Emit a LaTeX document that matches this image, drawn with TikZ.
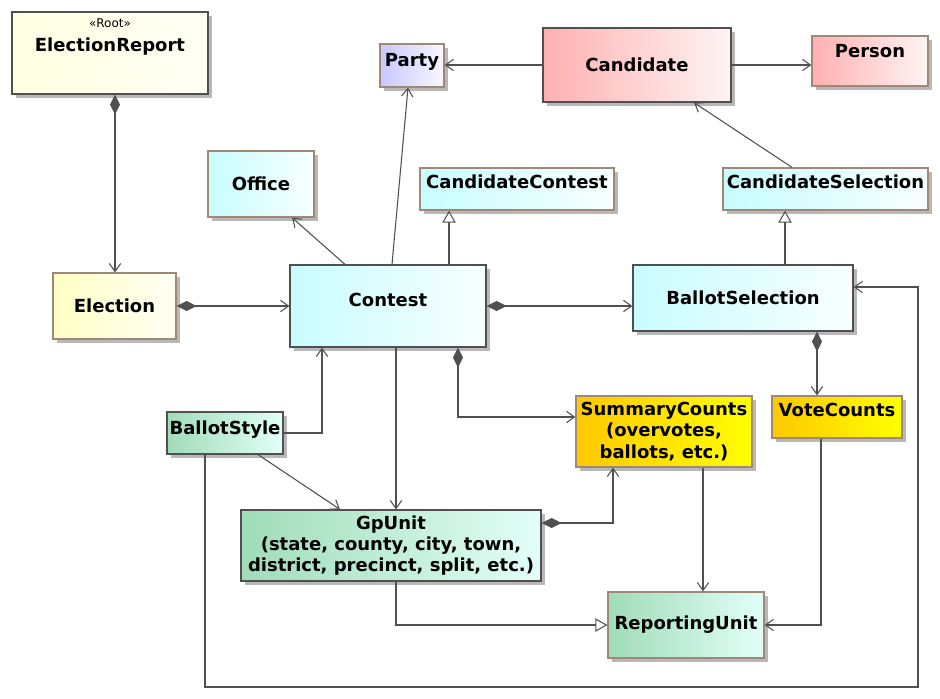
\documentclass[tikz,border=0pt]{standalone}
\usepackage{fontspec}
\setmainfont{DejaVu Sans}
\usetikzlibrary{arrows.meta, shadows}
\definecolor{linegray}{HTML}{505050}
\definecolor{edgebrown}{HTML}{A08878}
\definecolor{rootA}{HTML}{FFFFE0}
\definecolor{rootB}{HTML}{FFFFF6}
\definecolor{electA}{HTML}{FFFFC4}
\definecolor{electB}{HTML}{FFFFF4}
\definecolor{cyanA}{HTML}{C8FCFF}
\definecolor{cyanB}{HTML}{F8FFFF}
\definecolor{lavA}{HTML}{C8C8FF}
\definecolor{lavB}{HTML}{F8F8FF}
\definecolor{pinkA}{HTML}{FFB0B0}
\definecolor{pinkB}{HTML}{FFF4F4}
\definecolor{greenA}{HTML}{A0DCB8}
\definecolor{greenB}{HTML}{E2FFF8}
\definecolor{goldA}{HTML}{FFC800}
\definecolor{goldB}{HTML}{FFFF00}
\newcommand{\boxfont}{\bfseries\fontsize{13.5}{16}\selectfont}
\tikzstyle{box} = [rectangle, line width=0.9pt, inner sep=2pt, align=center,
    font=\boxfont, drop shadow={shadow xshift=3pt, shadow yshift=-3pt,
    fill=black!28, opacity=1}]
\tikzstyle{darkbox} = [box, draw=linegray]
\tikzstyle{brownbox} = [box, draw=edgebrown]
\tikzstyle{rootfill} = [left color=rootA, right color=rootB]
\tikzstyle{electfill} = [left color=electA, right color=electB]
\tikzstyle{cyanfill} = [left color=cyanA, right color=cyanB]
\tikzstyle{lavfill} = [left color=lavA, right color=lavB]
\tikzstyle{pinkfill} = [left color=pinkA, right color=pinkB]
\tikzstyle{greenfill} = [left color=greenA, right color=greenB]
\tikzstyle{goldfill} = [left color=goldA, right color=goldB]
\tikzstyle{toptext} = [anchor=north, inner sep=0pt, font=\boxfont]
\tikzstyle{link} = [draw=linegray, line width=0.8pt]
\tikzstyle{assoc} = [link, -{Straight Barb[length=6pt, width=8.5pt]}]
\tikzstyle{comp} = [link, {Diamond[length=15pt, width=7.5pt]}-{Straight Barb[length=6pt, width=8.5pt]}]
\tikzstyle{gen} = [link, -{Triangle[open, length=9pt, width=10pt]}]
\begin{document}
\begin{tikzpicture}[x=0.75pt, y=-0.75pt]
  \useasboundingbox (0,0) rectangle (940,699);

  % Classes
  \node[darkbox, rootfill, minimum width=147pt, minimum height=61.5pt,
    label={[toptext, font=\fontsize{9}{10}\selectfont, yshift=-5.4pt]north:«Root»},
    label={[toptext, yshift=-19.4pt]north:ElectionReport}] (report) at (110,53) {};
  \node[brownbox, electfill, minimum width=92.25pt, minimum height=49.5pt] (election) at (114.5,306) {Election};
  \node[brownbox, cyanfill, minimum width=79.5pt, minimum height=49.5pt] (office) at (261,184) {Office};
  \node[brownbox, lavfill, minimum width=48pt, minimum height=32.25pt,
    label={[toptext, yshift=-7pt]north:Party}] (party) at (412,65.5) {};
  \node[darkbox, pinkfill, minimum width=141pt, minimum height=55.5pt] (candidate) at (637,65) {Candidate};
  \node[brownbox, pinkfill, minimum width=87pt, minimum height=37.5pt,
    label={[toptext, yshift=-6.5pt]north:Person}] (person) at (870,61) {};
  \node[brownbox, cyanfill, minimum width=145.5pt, minimum height=31.5pt,
    label={[toptext, yshift=-5.6pt]north:CandidateContest}] (candcontest) at (517,189) {};
  \node[brownbox, cyanfill, minimum width=153.75pt, minimum height=31.5pt,
    label={[toptext, yshift=-5.6pt]north:CandidateSelection}] (candsel) at (825.5,189) {};
  \node[darkbox, cyanfill, minimum width=147pt, minimum height=61.5pt,
    label={[toptext, yshift=-21.5pt]north:Contest}] (contest) at (388,306) {};
  \node[darkbox, cyanfill, minimum width=165pt, minimum height=49.5pt] (ballotsel) at (743,298) {BallotSelection};
  \node[darkbox, greenfill, minimum width=87pt, minimum height=31.5pt,
    label={[toptext, yshift=-6.5pt]north:BallotStyle}] (ballotstyle) at (225,433) {};
  \node[brownbox, goldfill, minimum width=132pt, minimum height=53.25pt] (summary) at (664,431.5)
    {SummaryCounts\\(overvotes,\\ballots, etc.)};
  \node[brownbox, goldfill, minimum width=97.5pt, minimum height=31.5pt,
    label={[toptext, yshift=-5.6pt]north:VoteCounts}] (votecounts) at (837,417) {};
  \node[darkbox, greenfill, minimum width=225pt, minimum height=53.25pt] (gpunit) at (391,545.5)
    {GpUnit\\(state, county, city, town,\\district, precinct, split, etc.)};
  \node[brownbox, greenfill, minimum width=117pt, minimum height=49.5pt] (reporting) at (686,625) {ReportingUnit};

  % Connectors
  \draw[comp] (115,0 |- report.south) -- (115,0 |- election.north);
  \draw[comp] (election.east) -- (contest.west);
  \draw[assoc] (345,0 |- contest.north) -- (292,0 |- office.south);
  \draw[assoc] (392,0 |- contest.north) -- (408,0 |- party.south);
  \draw[gen] (449,0 |- contest.north) -- (449,0 |- candcontest.south);
  \draw[comp] (contest.east) -- (contest.east -| ballotsel.west);
  \draw[gen] (785,0 |- ballotsel.north) -- (785,0 |- candsel.south);
  \draw[assoc] (792,0 |- candsel.north) -- (694,0 |- candidate.south);
  \draw[assoc] (candidate.west) -- (candidate.west -| party.east);
  \draw[assoc] (candidate.east) -- (candidate.east -| person.west);
  \draw[comp] (458,0 |- contest.south) |- (summary.west |- 0,417);
  \draw[comp] (817,0 |- ballotsel.south) -- (817,0 |- votecounts.north);
  \draw[assoc] (ballotstyle.east) -| (322,0 |- contest.south);
  \draw[assoc] (258,0 |- ballotstyle.south) -- (340,0 |- gpunit.north);
  \draw[assoc] (396,0 |- contest.south) -- (396,0 |- gpunit.north);
  \draw[comp] (gpunit.east |- 0,523) -| (613,0 |- summary.south);
  \draw[assoc] (703,0 |- summary.south) -- (703,0 |- reporting.north);
  \draw[assoc] (821,0 |- votecounts.south) |- (reporting.east);
  \draw[gen] (396,0 |- gpunit.south) |- (reporting.west);
  \draw[assoc] (205,0 |- ballotstyle.south) -- (205,687) -- (918,687)
    -- (918,287) -- (ballotsel.east |- 0,287);
\end{tikzpicture}
\end{document}
